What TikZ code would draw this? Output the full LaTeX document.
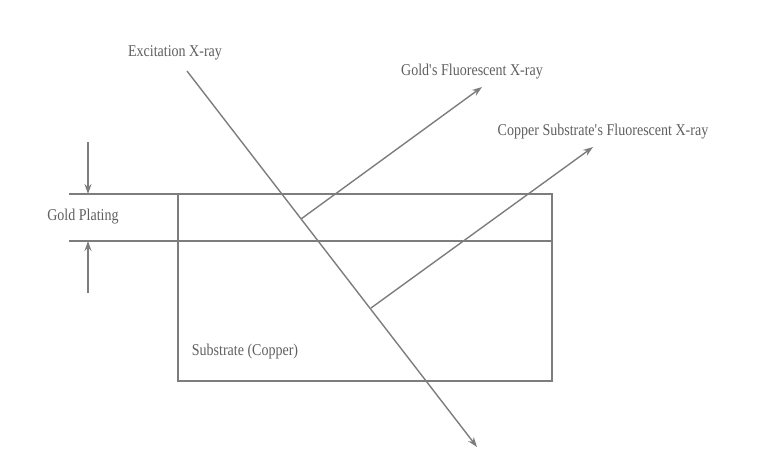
\documentclass[tikz,border=0pt]{standalone}
\usepackage{fontspec}
\setmainfont{Liberation Serif}[FakeStretch=0.85]
\usetikzlibrary{arrows.meta}
\definecolor{linegray}{RGB}{125,125,125}
\definecolor{textgray}{RGB}{95,95,95}
\tikzset{
  ray/.style={draw=linegray, line width=1.4pt, -{Stealth[length=10pt,width=7pt]}},
  edge/.style={draw=linegray, line width=1.6pt},
  label/.style={text=textgray, font=\fontsize{16.5}{18}\selectfont, inner sep=0pt}
}
\begin{document}
\begin{tikzpicture}[x=1pt,y=-1pt]
    \useasboundingbox (0,0) rectangle (768,464);
    % layers
    \coordinate (tl) at (178,194);
    \coordinate (ml) at (178,241);
    \coordinate (mr) at (552,241);
    \coordinate (br) at (552,381);
    \draw[edge] (tl) rectangle (br);
    \draw[edge] (ml) -- (mr);
    % thickness marks
    \coordinate (ta) at (69,194);
    \coordinate (ba) at (69,241);
    \draw[edge] (ta) -- (tl);
    \draw[edge] (ba) -- (ml);
    \coordinate (td) at (88,142);
    \coordinate (bd) at (88,293);
    \draw[ray] (td) -- (88,194);
    \draw[ray] (bd) -- (88,241);
    % rays
    \coordinate (in) at (187,71);
    \coordinate (out) at (477,447);
    \coordinate (au) at (301,219);
    \coordinate (cu) at (371,308);
    \coordinate (autip) at (482,87);
    \coordinate (cutip) at (593,147);
    \draw[ray] (in) -- (out);
    \draw[ray] (au) -- (autip);
    \draw[ray] (cu) -- (cutip);
    % labels
    \node[label] (exc) at (175,53) {Excitation X-ray};
    \node[label] (aufl) at (472,72) {Gold\textquotesingle s Fluorescent X-ray};
    \node[label] (cufl) at (603,132) {Copper Substrate\textquotesingle s Fluorescent X-ray};
    \node[label] (gold) at (83,217) {Gold Plating};
    \node[label] (sub) at (245,352) {Substrate (Copper)};
  \end{tikzpicture}
\end{document}
